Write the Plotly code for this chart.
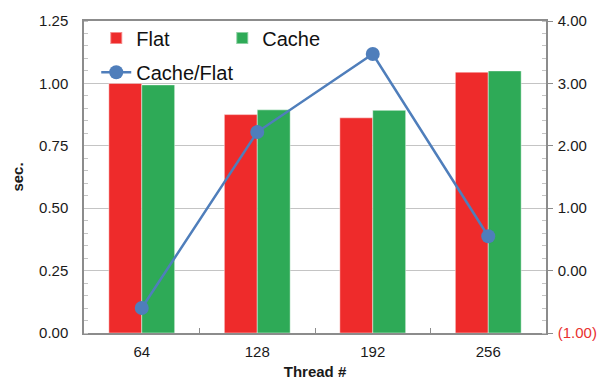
import plotly.graph_objects as go

# Runtime per thread count and relative difference of cache mode vs flat mode
threads = ["64", "128", "192", "256"]
flat_sec = [1.000, 0.875, 0.862, 1.045]
cache_sec = [0.994, 0.894, 0.892, 1.050]
cache_vs_flat = [-0.60, 2.22, 3.47, 0.55]

left_ticks = [0.00, 0.25, 0.50, 0.75, 1.00, 1.25]
right_ticks = [-1, 0, 1, 2, 3, 4]
right_labels = ['<span style="color:#e8302f">(1.00)</span>', "0.00", "1.00", "2.00", "3.00", "4.00"]

RED = "#ee2b2b"
GREEN = "#2eaa57"
BLUE = "#4f7ebb"
AXIS = "#8c8c8c"
GRID = "#c4c4c4"
FONT = "Liberation Sans, Arial, sans-serif"

fig = go.Figure()
fig.add_trace(go.Bar(
    x=threads, y=flat_sec, name="Flat",
    marker=dict(color=RED, line=dict(color="rgba(255,255,255,0.45)", width=1)),
    legend="legend",
))
fig.add_trace(go.Bar(
    x=threads, y=cache_sec, name="Cache",
    marker=dict(color=GREEN, line=dict(color="rgba(255,255,255,0.45)", width=1)),
    legend="legend",
))
fig.add_trace(go.Scatter(
    x=threads, y=cache_vs_flat, name="Cache/Flat", yaxis="y2",
    mode="lines+markers",
    line=dict(color=BLUE, width=2.5),
    marker=dict(color=BLUE, size=14),
    legend="legend2",
))

fig.update_layout(
    width=601, height=380,
    margin=dict(l=84, r=55, t=21, b=47),
    paper_bgcolor="white", plot_bgcolor="white",
    font=dict(family=FONT, size=15, color="#1a1a1a"),
    barmode="group", bargap=0.43, bargroupgap=0,
    xaxis=dict(
        type="category", automargin=False,
        showline=True, linecolor=AXIS, linewidth=1.5, mirror=True,
        ticks="inside", tickson="boundaries", ticklen=5, tickcolor=AXIS,
        ticklabelstandoff=4,
        showgrid=False,
        title=dict(text="<b>Thread #</b>", font=dict(size=15), standoff=11),
        tickfont=dict(size=15),
    ),
    yaxis=dict(
        range=[0, 1.25], tickvals=left_ticks, tickformat=".2f", automargin=False,
        showline=True, linecolor=AXIS, linewidth=1.5,
        showgrid=True, gridcolor=GRID, gridwidth=1.2,
        ticks="", zeroline=False, ticklabelstandoff=11,
        minor=dict(dtick=0.05, ticks="inside", ticklen=4, tickcolor=GRID, showgrid=False),
        title=dict(text="<b>sec.</b>", font=dict(size=15), standoff=12),
        tickfont=dict(size=15),
    ),
    yaxis2=dict(
        overlaying="y", side="right", automargin=False,
        range=[-1, 4], tickvals=right_ticks, ticktext=right_labels,
        showline=True, linecolor=AXIS, linewidth=1.5,
        showgrid=False, zeroline=False,
        ticks="outside", ticklen=5, tickcolor=AXIS, ticklabelstandoff=2,
        minor=dict(dtick=0.2, ticks="inside", ticklen=4, tickcolor=GRID, showgrid=False),
        tickfont=dict(size=15),
    ),
    legend=dict(
        orientation="h", x=0.0265, y=1.008, xanchor="left", yanchor="top",
        font=dict(size=20, color="#111"), bgcolor="rgba(0,0,0,0)",
        entrywidth=81, itemsizing="constant",
    ),
    legend2=dict(
        orientation="h", x=0.0265, y=0.898, xanchor="left", yanchor="top",
        font=dict(size=20, color="#111"), bgcolor="rgba(0,0,0,0)",
    ),
)

fig.write_html("out.html")
